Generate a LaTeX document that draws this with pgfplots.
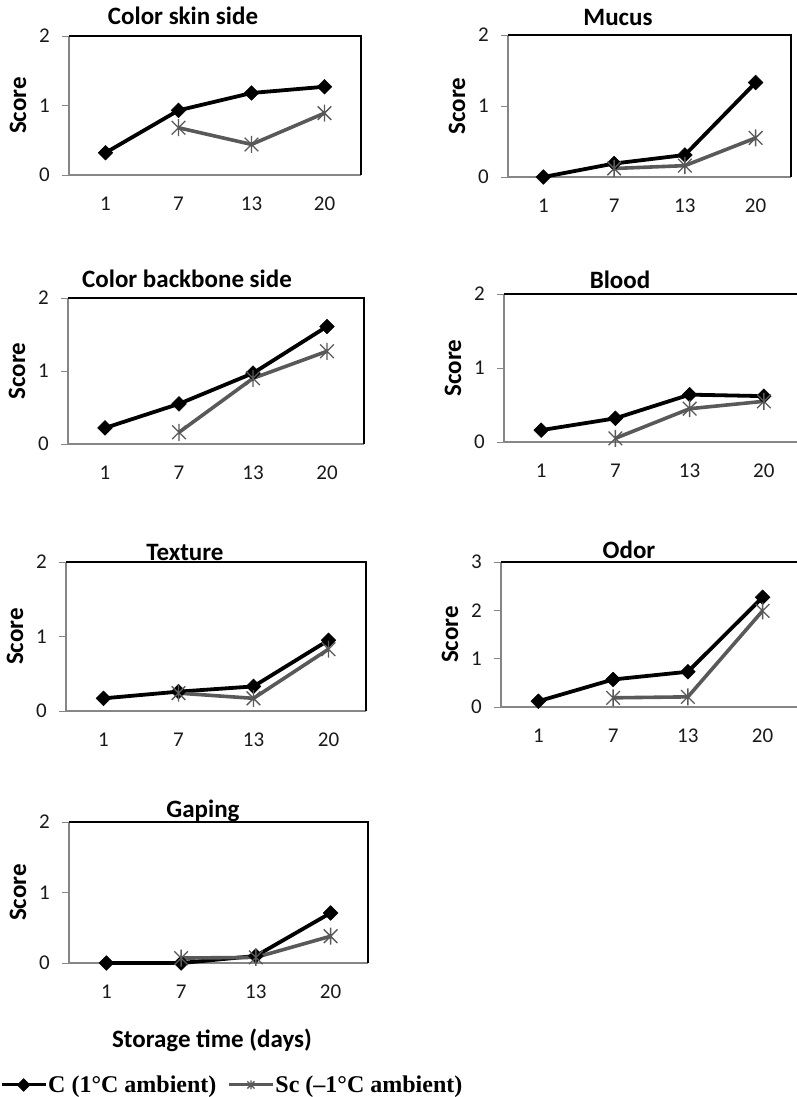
\documentclass[border=0pt]{standalone}
\usepackage{pgfplots}
\pgfplotsset{compat=1.18}
\usepackage{fontspec}
\setmainfont{Carlito}
\newfontfamily\legfont{Liberation Serif}
\definecolor{scgray}{RGB}{89,89,89}
\definecolor{axgray}{RGB}{134,134,134}
\pgfdeclareplotmark{xstar}{%
  \pgfpathmoveto{\pgfqpoint{0pt}{\pgfplotmarksize}}%
  \pgfpathlineto{\pgfqpoint{0pt}{-\pgfplotmarksize}}%
  \pgfpathmoveto{\pgfqpoint{-.8\pgfplotmarksize}{-.8\pgfplotmarksize}}%
  \pgfpathlineto{\pgfqpoint{.8\pgfplotmarksize}{.8\pgfplotmarksize}}%
  \pgfpathmoveto{\pgfqpoint{-.8\pgfplotmarksize}{.8\pgfplotmarksize}}%
  \pgfpathlineto{\pgfqpoint{.8\pgfplotmarksize}{-.8\pgfplotmarksize}}%
  \pgfusepathqstroke}
\pgfplotsset{
  panel/.style={
    scale only axis,
    xmin=0.5, xmax=4.5, ymin=0, ymax=2,
    xtick={1,2,3,4}, xticklabels={1,7,13,20},
    ytick={0,1,2},
    axis line style={draw=none},
    xtick style={draw=none},
    ytick pos=left,
    tick align=outside,
    ytick style={draw=axgray, line width=1bp},
    major tick length=7bp,
    tick label style={font=\fontsize{21bp}{24bp}\selectfont, text=black!90},
    /pgf/number format/assume math mode=true,
    yticklabel style={anchor=east, inner sep=0pt, xshift=-12bp},
    xticklabel style={anchor=north, inner sep=0pt, yshift=-15bp},
    ylabel={Score},
    every axis y label/.style={at={(rel axis cs:0,0.5)}, xshift=-51bp, rotate=90, anchor=center, font=\fontsize{25bp}{30bp}\selectfont\bfseries},
    clip=false,
  },
  cser/.style={black, line width=3.8bp, mark=square*, mark size=5.2bp, mark options={rotate=45, solid, fill=black, line width=0.5bp}},
  sser/.style={scgray, line width=3.6bp, mark=xstar, mark size=8.5bp, mark options={solid, line width=1.3bp}},
}
\newcommand{\frm}{%
  \draw[axgray, line width=1.3bp] (rel axis cs:0,1) -- (rel axis cs:0,0) -- (rel axis cs:1,0);
  \draw[black, line width=1.1bp] (rel axis cs:0,1) -- (rel axis cs:1,1) -- (rel axis cs:1,0);}
\begin{document}
\begin{tikzpicture}
\tikzset{ttl/.style={anchor=base, font=\fontsize{25bp}{30bp}\selectfont\bfseries}}
% Panel 1: Color skin side
\begin{axis}[panel, width=292bp, height=139bp, at={(69bp,-175bp)}, anchor=south west]
\frm
\addplot[cser] coordinates {(1,0.32) (2,0.93) (3,1.18) (4,1.27)};
\addplot[sser] coordinates {(2,0.68) (3,0.44) (4,0.89)};
\end{axis}
% Panel 2: Mucus
\begin{axis}[panel, width=283bp, height=142bp, at={(508bp,-177bp)}, anchor=south west]
\frm
\addplot[cser] coordinates {(1,0) (2,0.19) (3,0.31) (4,1.33)};
\addplot[sser] coordinates {(2,0.12) (3,0.16) (4,0.55)};
\end{axis}
% Panel 3: Color backbone side
\begin{axis}[panel, width=296bp, height=146bp, at={(68bp,-444bp)}, anchor=south west]
\frm
\addplot[cser] coordinates {(1,0.22) (2,0.55) (3,0.97) (4,1.61)};
\addplot[sser] coordinates {(2,0.16) (3,0.90) (4,1.27)};
\end{axis}
% Panel 4: Blood
\begin{axis}[panel, width=297bp, height=148bp, at={(504bp,-442bp)}, anchor=south west]
\frm
\addplot[cser] coordinates {(1,0.16) (2,0.32) (3,0.64) (4,0.62)};
\addplot[sser] coordinates {(2,0.05) (3,0.45) (4,0.55)};
\end{axis}
% Panel 5: Texture
\begin{axis}[panel, width=300bp, height=149bp, at={(66bp,-711bp)}, anchor=south west]
\frm
\addplot[cser] coordinates {(1,0.17) (2,0.26) (3,0.33) (4,0.95)};
\addplot[sser] coordinates {(2,0.24) (3,0.17) (4,0.83)};
\end{axis}
% Panel 6: Odor
\begin{axis}[panel, width=299bp, height=145bp, at={(501bp,-707bp)}, anchor=south west, ymax=3, ytick={0,1,2,3}]
\frm
\addplot[cser] coordinates {(1,0.12) (2,0.57) (3,0.73) (4,2.27)};
\addplot[sser] coordinates {(2,0.19) (3,0.21) (4,1.99)};
\end{axis}
% Panel 7: Gaping
\begin{axis}[panel, width=299bp, height=141bp, at={(69bp,-963bp)}, anchor=south west,
  legend style={at={(-0.2308,-0.865)}, anchor=west, draw=none, fill=none, legend columns=2,
    font=\legfont\bfseries\fontsize{24bp}{28bp}\selectfont, inner sep=0pt,
    /tikz/every even column/.append style={column sep=10bp}, nodes={inner sep=1bp}},
  legend image code/.code={\draw[mark repeat=2, mark phase=2, #1, line width=3bp, mark size=4.5bp] plot coordinates {(0bp,0bp) (22bp,0bp) (44bp,0bp)};}]
\frm
\addplot[cser] coordinates {(1,0) (2,0) (3,0.1) (4,0.71)};
\addlegendentry{C (1°C ambient)}
\addplot[sser] coordinates {(2,0.07) (3,0.08) (4,0.38)};
\addlegendentry{Sc (–1°C ambient)}
\end{axis}
% Titles
\node[ttl] at (183bp,-24bp) {Color skin side};
\node[ttl] at (618bp,-25bp) {Mucus};
\node[ttl] at (187bp,-287bp) {Color backbone side};
\node[ttl] at (620bp,-288bp) {Blood};
\node[ttl] at (185bp,-560bp) {Texture};
\node[ttl] at (629bp,-558bp) {Odor};
\node[ttl] at (203bp,-817bp) {Gaping};
\node[ttl] at (212bp,-1047bp) {Storage time (days)};
\pgfresetboundingbox
\path[use as bounding box] (0,0) rectangle (797bp,-1097bp);
\end{tikzpicture}
\end{document}
